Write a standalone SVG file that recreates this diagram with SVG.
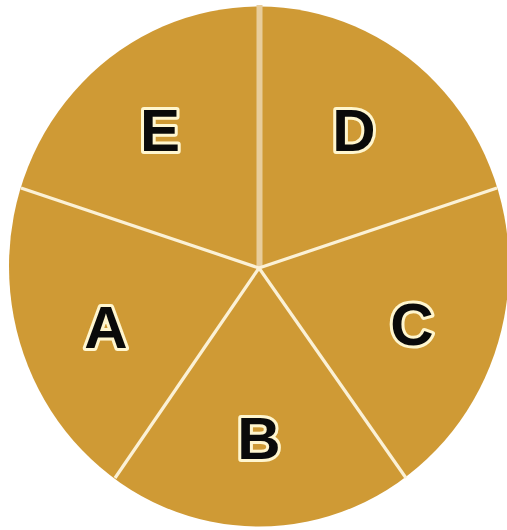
<svg xmlns="http://www.w3.org/2000/svg" width="507" height="530" viewBox="0 0 507 530">
<style>
.lbl{font-family:"Liberation Sans",Arial,sans-serif;font-weight:bold;font-size:60px;fill:#0a0a0a;stroke:#fff6cf;stroke-width:6;paint-order:stroke;stroke-linejoin:round;text-anchor:middle}
.sp{stroke:#fbf1d6;stroke-width:3.2;stroke-linecap:butt}
</style>
<rect width="507" height="530" fill="#ffffff"/>
<g id="pie">
<ellipse cx="259" cy="266.5" rx="250" ry="260" fill="#cf9a35"/>
</g>
<g id="connectors">
<line x1="259.5" y1="268" x2="259.5" y2="5" stroke="#e8cd9c" stroke-width="6"/>
<line class="sp" x1="259" y1="268" x2="497" y2="188"/>
<line class="sp" x1="259" y1="268" x2="21" y2="188"/>
<line class="sp" x1="259" y1="268" x2="115" y2="478"/>
<line class="sp" x1="259" y1="268" x2="406" y2="478"/>
</g>
<g id="nodeE"><text class="lbl" x="160" y="151">E</text></g>
<g id="nodeD"><text class="lbl" x="354" y="151">D</text></g>
<g id="nodeA"><text class="lbl" x="106" y="348">A</text></g>
<g id="nodeC"><text class="lbl" x="412" y="345">C</text></g>
<g id="nodeB"><text class="lbl" x="259" y="459">B</text></g>
</svg>
